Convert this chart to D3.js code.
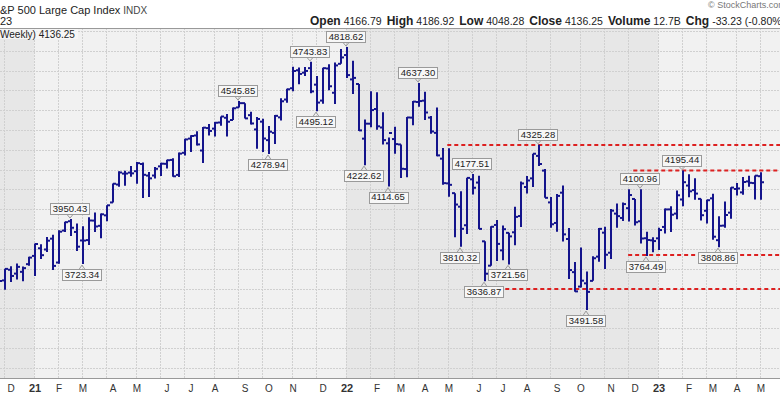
<!DOCTYPE html>
<html>
<head>
<meta charset="utf-8">
<script src="https://cdnjs.cloudflare.com/ajax/libs/d3/7.8.5/d3.min.js"></script>
<style>
  body { margin: 0; background: #fff; }
  svg { display: block; font-family: 'Liberation Sans', Arial, sans-serif; }
</style>
</head>
<body>
<div id="chart"></div>
<script>
// One bar per week, first week starts Monday 23 Nov 2020.
const firstWeek = '2020-11-23';

const opens = [
  3566.8, 3641.0, 3694.7, 3675.3, 3684.3, 3723.0, 3764.6, 3803.1, 3797.0, 3851.7,
  3731.2, 3892.6, 3939.6, 3885.6, 3842.5, 3844.4, 3942.8, 3916.5, 3969.3, 4034.4,
  4124.7, 4179.8, 4185.0, 4192.0, 4228.3, 4169.9, 4170.2, 4216.5, 4229.3, 4248.9,
  4173.4, 4284.9, 4356.5, 4372.4, 4296.4, 4409.6, 4406.9, 4437.8, 4461.7, 4450.3,
  4513.8, 4535.4, 4474.8, 4402.9, 4442.1, 4348.8, 4385.4, 4463.7, 4553.7, 4610.6,
  4701.5, 4689.3, 4712.0, 4628.8, 4548.4, 4710.3, 4587.9, 4734.0, 4778.1, 4655.3,
  4632.2, 4356.3, 4431.8, 4505.8, 4412.6, 4332.7, 4354.2, 4327.0, 4202.8, 4462.4,
  4541.1, 4548.0, 4462.6, 4385.6, 4255.3, 4130.6, 4081.3, 4013.0, 3919.4, 4151.1,
  4134.7, 3838.2, 3715.3, 3920.8, 3792.6, 3880.9, 3883.8, 3965.7, 4112.4, 4155.9,
  4269.4, 4195.1, 4034.6, 3930.9, 4083.7, 3849.9, 3682.7, 3609.8, 3626.2, 3638.7,
  3761.0, 3881.9, 3780.7, 3978.0, 3956.2, 4005.4, 4052.0, 3939.3, 3853.8, 3843.3,
  3853.3, 3910.8, 3999.3, 3978.1, 4049.3, 4119.6, 4096.6, 4052.4, 3992.4, 4055.1,
  3844.0, 3917.5, 3982.9, 4102.2, 4085.2, 4140.5, 4132.1, 4166.8
];
const highs = [
  3644.3, 3699.2, 3712.4, 3726.7, 3711.2, 3760.2, 3826.7, 3823.6, 3859.8, 3870.9,
  3894.6, 3937.0, 3950.4, 3928.6, 3914.5, 3960.3, 3983.9, 3978.2, 4020.6, 4129.5,
  4191.3, 4194.2, 4218.8, 4238.0, 4236.4, 4188.1, 4213.4, 4234.1, 4249.7, 4257.7,
  4286.1, 4356.0, 4372.9, 4393.7, 4415.2, 4430.0, 4440.8, 4468.0, 4480.3, 4513.3,
  4545.9, 4535.4, 4492.0, 4465.4, 4457.3, 4419.8, 4475.8, 4559.7, 4608.1, 4718.5,
  4714.9, 4717.8, 4743.8, 4672.9, 4713.6, 4732.0, 4740.7, 4808.9, 4818.6, 4748.8,
  4632.2, 4453.2, 4595.3, 4590.0, 4489.6, 4362.1, 4416.8, 4327.0, 4465.4, 4546.0,
  4637.3, 4593.5, 4471.0, 4512.9, 4308.5, 4307.7, 4081.3, 4090.7, 4158.5, 4177.5,
  4168.8, 3838.2, 3913.7, 3945.9, 3918.5, 3880.9, 4012.4, 4140.2, 4167.7, 4280.5,
  4325.3, 4203.0, 4062.0, 4076.8, 4119.3, 3906.0, 3733.3, 3806.9, 3685.4, 3762.8,
  3905.4, 3911.8, 4001.5, 4028.8, 4034.0, 4100.5, 4052.0, 4101.0, 3886.0, 3858.2,
  3906.2, 4004.0, 4015.4, 4094.2, 4195.4, 4176.5, 4156.0, 4052.4, 4048.3, 4078.5,
  3964.5, 4039.5, 4110.8, 4133.1, 4163.2, 4169.5, 4170.1, 4186.9
];
const lows = [
  3552.6, 3594.4, 3633.4, 3645.8, 3636.5, 3715.0, 3662.7, 3749.6, 3784.3, 3694.1,
  3725.6, 3884.9, 3865.0, 3789.5, 3723.3, 3819.3, 3885.7, 3853.5, 3939.0, 4034.4,
  4114.2, 4118.4, 4164.4, 4128.6, 4056.9, 4061.4, 4155.0, 4167.6, 4205.4, 4164.4,
  4163.0, 4271.0, 4289.4, 4321.1, 4233.1, 4372.0, 4367.7, 4422.0, 4367.7, 4450.3,
  4513.8, 4457.7, 4427.8, 4305.9, 4288.5, 4278.9, 4329.9, 4447.5, 4537.4, 4595.1,
  4630.9, 4672.8, 4585.4, 4495.1, 4532.0, 4600.2, 4531.1, 4734.0, 4662.7, 4582.2,
  4395.3, 4222.6, 4414.0, 4401.4, 4327.2, 4114.7, 4279.5, 4157.9, 4161.7, 4424.3,
  4517.7, 4450.0, 4381.3, 4267.6, 4124.3, 4062.5, 3858.9, 3810.3, 3875.1, 4074.0,
  3900.2, 3636.9, 3715.3, 3738.7, 3742.1, 3721.6, 3818.6, 3910.7, 4079.8, 4112.1,
  4218.7, 4057.7, 3906.2, 3886.8, 3837.1, 3647.5, 3584.1, 3604.9, 3491.6, 3638.7,
  3735.7, 3698.2, 3748.6, 3906.5, 3940.3, 3938.6, 3918.4, 3827.3, 3764.5, 3783.2,
  3794.3, 3877.3, 3885.5, 3949.1, 4015.6, 4060.8, 4047.5, 3943.1, 3928.2, 3846.3,
  3808.9, 3906.3, 3951.5, 4069.8, 4072.6, 4113.2, 4049.1, 4048.3
];
const closes = [
  3638.4, 3699.1, 3663.5, 3709.4, 3703.1, 3756.1, 3824.7, 3768.3, 3841.5, 3714.2,
  3886.8, 3934.8, 3906.7, 3811.2, 3841.9, 3943.3, 3913.1, 3974.5, 4019.9, 4128.8,
  4185.5, 4180.2, 4181.2, 4232.6, 4173.9, 4155.9, 4204.1, 4229.9, 4247.4, 4166.5,
  4280.7, 4352.3, 4369.6, 4327.2, 4411.8, 4395.3, 4436.5, 4468.0, 4441.7, 4509.4,
  4535.4, 4458.6, 4433.0, 4455.5, 4357.0, 4391.3, 4471.4, 4544.9, 4605.4, 4697.5,
  4682.9, 4698.0, 4594.6, 4538.4, 4712.0, 4620.6, 4725.8, 4766.2, 4677.0, 4662.9,
  4397.9, 4431.9, 4500.5, 4418.6, 4348.9, 4384.7, 4328.9, 4204.3, 4463.1, 4543.1,
  4545.9, 4488.3, 4392.6, 4271.8, 4131.9, 4123.3, 4023.9, 3901.4, 4158.2, 4108.5,
  3900.9, 3674.8, 3911.7, 3825.3, 3899.4, 3863.2, 3961.6, 4130.3, 4145.2, 4280.2,
  4228.5, 4057.7, 3924.3, 4067.4, 3873.3, 3693.2, 3585.6, 3639.7, 3583.1, 3752.8,
  3901.1, 3770.6, 3992.9, 3965.3, 4026.1, 4071.7, 3934.4, 3852.4, 3844.8, 3839.5,
  3895.1, 3999.1, 3972.6, 4070.6, 4136.5, 4090.5, 4079.1, 3970.0, 4045.6, 3861.6,
  3916.6, 3971.0, 4109.3, 4105.0, 4137.6, 4133.5, 4169.5, 4136.3
];

// Boxed callouts on swing highs / lows.
const calloutWeeks = [
  '2021-02-15', '2021-03-01', '2021-08-30', '2021-10-04', '2021-11-22', '2021-11-29',
  '2022-01-03', '2022-01-24', '2022-02-21', '2022-03-28', '2022-05-16', '2022-05-30',
  '2022-06-13', '2022-07-11', '2022-08-15', '2022-10-10', '2022-12-12', '2022-12-19',
  '2023-01-30', '2023-03-13'
];
const calloutValues = [
  3950.43, 3723.34, 4545.85, 4278.94, 4743.83, 4495.12,
  4818.62, 4222.62, 4114.65, 4637.30, 3810.32, 4177.51,
  3636.87, 3721.56, 4325.28, 3491.58, 4100.96, 3764.49,
  4195.44, 3808.86
];
const calloutSides = [
  'high', 'low', 'high', 'low', 'high', 'low',
  'high', 'low', 'low', 'high', 'low', 'high',
  'low', 'low', 'high', 'low', 'high', 'low',
  'high', 'low'
];

// Red dashed levels drawn on the chart (value, start date).
const levelValues = [4324, 4195, 3769, 3598];
const levelStarts = ['2022-04-30', '2022-12-03', '2022-11-27', '2022-06-04'];

const monthLetters = ['J', 'F', 'M', 'A', 'M', 'J', 'J', 'A', 'S', 'O', 'N', 'D'];

const quoteLabels = ['Open', 'High', 'Low', 'Close', 'Volume', 'Chg'];
const quoteValues = ['4166.79', '4186.92', '4048.28', '4136.25', '12.7B', '-33.23 (-0.80%)'];

let width = 780;
let height = 396;
let plotTop = 28;
let plotBottom = 378;

let parse = d3.utcParse('%Y-%m-%d');
let start = parse(firstWeek);
let weeks = d3.utcMonday.range(start, d3.utcMonday.offset(start, opens.length));

let bars = weeks.map((w, i) => ({
  date: w, open: opens[i], high: highs[i], low: lows[i], close: closes[i]
}));

let xScale = d3.scaleUtc()
  .domain([weeks[0], weeks[weeks.length - 1]])
  .range([-1, 761]);

let yScale = d3.scaleLinear()
  .domain([3200, 4900])
  .range([367.8, 30.9]);

let svg = d3.select('#chart')
  .append('svg')
  .attr('width', width)
  .attr('height', height);

// Month boundaries: grid sits on the week holding the month's first trading day.
let months = d3.utcMonth.range(Date.UTC(2020, 11, 1), Date.UTC(2023, 5, 1));
let firstTradingDay = (m) => {
  let d = m;
  while (d.getUTCDay() === 0 || d.getUTCDay() === 6 ||
         (d.getUTCMonth() === 0 && d.getUTCDate() === 1)) {
    d = d3.utcDay.offset(d, 1);
  }
  return d;
};
let gridX = (m) => xScale(d3.utcMonday.floor(firstTradingDay(m))) - 1;

// Alternate year shading.
let yearStarts = months.filter(m => m.getUTCMonth() === 0);
let bandEdges = [-5].concat(yearStarts.map(gridX)).concat([width + 5]);
let plot = svg.append('g');
plot.selectAll('rect.band')
  .data(d3.range(bandEdges.length - 1))
  .enter()
  .append('rect')
  .attr('class', 'band')
  .attr('x', i => bandEdges[i])
  .attr('y', plotTop)
  .attr('width', i => bandEdges[i + 1] - bandEdges[i])
  .attr('height', plotBottom - plotTop)
  .attr('fill', i => i % 2 === 0 ? '#e7e7e7' : '#f1f1f1');

// Grid.
plot.selectAll('line.hgrid')
  .data(yScale.ticks(17))
  .enter()
  .append('line')
  .attr('x1', 0).attr('x2', width)
  .attr('y1', d => Math.round(yScale(d)) + 0.5)
  .attr('y2', d => Math.round(yScale(d)) + 0.5)
  .attr('stroke', '#d0d0d0')
  .attr('stroke-dasharray', '2,1');

plot.selectAll('line.vgrid')
  .data(months)
  .enter()
  .append('line')
  .attr('x1', d => Math.round(gridX(d)) + 0.5)
  .attr('x2', d => Math.round(gridX(d)) + 0.5)
  .attr('y1', plotTop).attr('y2', plotBottom)
  .attr('stroke', '#d0d0d0')
  .attr('stroke-dasharray', '2,1');

// Frame lines.
svg.append('line')
  .attr('x1', 0).attr('x2', width)
  .attr('y1', plotTop + 0.5).attr('y2', plotTop + 0.5)
  .attr('stroke', '#999');
svg.append('line')
  .attr('x1', 0).attr('x2', width)
  .attr('y1', plotBottom + 0.5).attr('y2', plotBottom + 0.5)
  .attr('stroke', '#999');

// Red dashed levels.
svg.selectAll('line.level')
  .data(levelValues)
  .enter()
  .append('line')
  .attr('x1', (d, i) => xScale(parse(levelStarts[i])))
  .attr('x2', width)
  .attr('y1', d => yScale(d))
  .attr('y2', d => yScale(d))
  .attr('stroke', '#dd2020')
  .attr('stroke-width', 2)
  .attr('stroke-dasharray', '4,3');

// OHLC bars.
let barColor = '#14148c';
let barG = svg.append('g');
barG.selectAll('line.hl')
  .data(bars)
  .enter()
  .append('line')
  .attr('x1', d => xScale(d.date))
  .attr('x2', d => xScale(d.date))
  .attr('y1', d => yScale(d.high))
  .attr('y2', d => yScale(d.low))
  .attr('stroke', barColor)
  .attr('stroke-width', 2);
barG.selectAll('line.op')
  .data(bars)
  .enter()
  .append('line')
  .attr('x1', d => xScale(d.date) - 3)
  .attr('x2', d => xScale(d.date))
  .attr('y1', d => yScale(d.open))
  .attr('y2', d => yScale(d.open))
  .attr('stroke', barColor)
  .attr('stroke-width', 2);
barG.selectAll('line.cl')
  .data(bars)
  .enter()
  .append('line')
  .attr('x1', d => xScale(d.date))
  .attr('x2', d => xScale(d.date) + 3)
  .attr('y1', d => yScale(d.close))
  .attr('y2', d => yScale(d.close))
  .attr('stroke', barColor)
  .attr('stroke-width', 2);

// Callouts.
let callG = svg.append('g');
calloutValues.forEach((v, i) => {
  let cx = xScale(parse(calloutWeeks[i])) - 1;
  let yv = yScale(v);
  let isHigh = calloutSides[i] === 'high';
  let g = callG.append('g');
  let t = g.append('text')
    .attr('x', cx)
    .attr('text-anchor', 'middle')
    .attr('font-size', 9.5)
    .attr('fill', '#222')
    .text(v.toFixed(2));
  let w = t.node().getComputedTextLength() + 5;
  let h = 11;
  let boxTop = isHigh ? yv - 5 - h : yv + 5;
  t.attr('y', boxTop + 8.8);
  g.insert('rect', 'text')
    .attr('x', Math.round(cx - w / 2) + 0.5)
    .attr('y', Math.round(boxTop) + 0.5)
    .attr('width', Math.round(w))
    .attr('height', h)
    .attr('fill', '#f7f7f7')
    .attr('stroke', '#9a9a9a');
  let edge = Math.round(boxTop) + 0.5 + (isHigh ? h : 0);
  let tip = isHigh ? yv - 1 : yv + 1;
  g.append('path')
    .attr('d', `M${cx - 3},${edge} L${cx},${tip} L${cx + 3},${edge}`)
    .attr('fill', 'none')
    .attr('stroke', '#9a9a9a');
});

// X axis month labels.
let labelG = svg.append('g');
months.forEach(m => {
  let isJan = m.getUTCMonth() === 0;
  labelG.append('text')
    .attr('x', xScale(d3.utcMonday.ceil(m)))
    .attr('y', 392)
    .attr('text-anchor', 'middle')
    .attr('font-size', isJan ? 11 : 10)
    .attr('font-weight', isJan ? 'bold' : 'normal')
    .attr('fill', '#333')
    .text(isJan ? d3.utcFormat('%y')(m) : monthLetters[m.getUTCMonth()]);
});

// Header.
let title = svg.append('text')
  .attr('x', 0).attr('y', 14)
  .attr('font-size', 11)
  .attr('fill', '#222');
title.append('tspan').text('&P 500 Large Cap Index ');
title.append('tspan').attr('font-size', 10).attr('fill', '#444').text('INDX');

svg.append('text')
  .attr('x', 0).attr('y', 25)
  .attr('font-size', 11)
  .attr('fill', '#222')
  .text('23');

svg.append('text')
  .attr('x', 708).attr('y', 8)
  .attr('font-size', 9)
  .attr('fill', '#777')
  .text('© StockCharts.com');

let quote = svg.append('text')
  .attr('x', 310).attr('y', 25)
  .attr('fill', '#222');
quoteLabels.forEach((lab, i) => {
  quote.append('tspan')
    .attr('font-weight', 'bold')
    .attr('font-size', 12)
    .attr('dx', i === 0 ? 0 : 5)
    .text(lab);
  quote.append('tspan')
    .attr('font-size', 10.5)
    .attr('dx', 3)
    .text(quoteValues[i]);
});

svg.append('rect')
  .attr('x', 0).attr('y', 29)
  .attr('width', 78).attr('height', 10)
  .attr('fill', '#f7f7f7')
  .attr('opacity', 0.8);
svg.append('text')
  .attr('x', 0).attr('y', 37.5)
  .attr('font-size', 10)
  .attr('fill', '#222')
  .text('Weekly) 4136.25');
</script>
</body>
</html>
